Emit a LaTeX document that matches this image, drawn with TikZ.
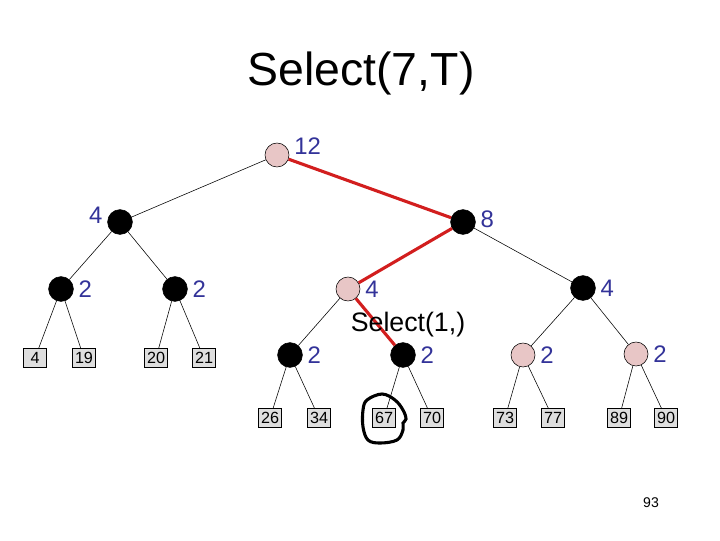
\documentclass[tikz,border=0pt]{standalone}
\usepackage{fontspec}
\setmainfont{Liberation Sans}
\definecolor{numblue}{RGB}{51,51,153}
\definecolor{pathred}{RGB}{210,30,30}
\definecolor{pinkdots}{RGB}{232,198,198}
\definecolor{leafgray}{RGB}{222,222,222}
\tikzset{
  blk/.style={circle,draw=black,fill=black,minimum size=0.62cm,inner sep=0pt},
  shaded/.style={circle,draw=black,fill=pinkdots,minimum size=0.6cm,inner sep=0pt},
  leafbox/.style={draw=black,fill=leafgray,minimum width=0.58cm,minimum height=0.47cm,inner sep=0pt,font=\fontsize{11.5}{13}\selectfont},
  numlab/.style={text=numblue,font=\fontsize{17}{20}\selectfont},
  tedge/.style={draw=black,line width=0.4pt},
  redge/.style={draw=pathred,line width=2.2pt},
}
\begin{document}
\begin{tikzpicture}[x=0.025cm,y=-0.025cm]
\useasboundingbox (0,0) rectangle (720,540);
% title
\node (title) at (361,73) {\fontsize{33}{38}\selectfont Select(7,T)};
% internal nodes
\node[shaded,label={[numlab,yshift=6pt]right:12}] (root) at (277,155) {};
\node[blk,label={[numlab,yshift=5pt]left:4}] (a) at (120,222) {};
\node[blk,label={[numlab,yshift=2pt]right:8}] (b) at (463,222) {};
\node[blk,label={[numlab]right:2}] (aa) at (61,289) {};
\node[blk,label={[numlab]right:2}] (ab) at (175,289) {};
\node[shaded,label={[numlab]right:4}] (ba) at (348,289) {};
\node[blk,label={[numlab]right:4}] (bb) at (583,288) {};
\node[blk,label={[numlab]right:2}] (baa) at (290,355) {};
\node[blk,label={[numlab]right:2}] (bab) at (403,355) {};
\node[shaded,label={[numlab]right:2}] (bba) at (523,355) {};
\node[shaded,label={[numlab]right:2}] (bbb) at (636,354) {};
% leaves
\node[leafbox] (l4) at (35,358) {4};
\node[leafbox] (l19) at (84,358) {19};
\node[leafbox] (l20) at (156,358) {20};
\node[leafbox] (l21) at (204,358) {21};
\node[leafbox] (l26) at (270,418) {26};
\node[leafbox] (l34) at (319,418) {34};
\node[leafbox] (l67) at (384,418) {67};
\node[leafbox] (l70) at (432,418) {70};
\node[leafbox] (l73) at (505,418) {73};
\node[leafbox] (l77) at (553,418) {77};
\node[leafbox] (l89) at (619,418) {89};
\node[leafbox] (l90) at (666,418) {90};
% edges
\draw[tedge] (root) -- (a);
\draw[tedge] (a) -- (aa);
\draw[tedge] (a) -- (ab);
\draw[tedge] (b) -- (bb);
\draw[tedge] (ba) -- (baa);
\draw[tedge] (bb) -- (bba);
\draw[tedge] (bb) -- (bbb);
\draw[tedge] (aa) -- (l4);
\draw[tedge] (aa) -- (l19);
\draw[tedge] (ab) -- (l20);
\draw[tedge] (ab) -- (l21);
\draw[tedge] (baa) -- (l26);
\draw[tedge] (baa) -- (l34);
\draw[tedge] (bab) -- (l67);
\draw[tedge] (bab) -- (l70);
\draw[tedge] (bba) -- (l73);
\draw[tedge] (bba) -- (l77);
\draw[tedge] (bbb) -- (l89);
\draw[tedge] (bbb) -- (l90);
% search path
\draw[redge] (root) -- (b);
\draw[redge] (b) -- (ba);
\draw[redge] (ba) -- (bab);
\node (sub) at (408,325) {\fontsize{19}{22}\selectfont Select(1,)};
% hand drawn loop round the answer
\draw[line width=2.2pt,line cap=round] plot[smooth cycle,tension=0.6] coordinates {
  (382,394) (395,400) (403,410) (406,419) (403,423) (403,430) (397,440)
  (380,443) (368,440) (363,427) (363,410) (367,400)};
\node (page) at (651,503) {\fontsize{10}{12}\selectfont 93};
\end{tikzpicture}
\end{document}
